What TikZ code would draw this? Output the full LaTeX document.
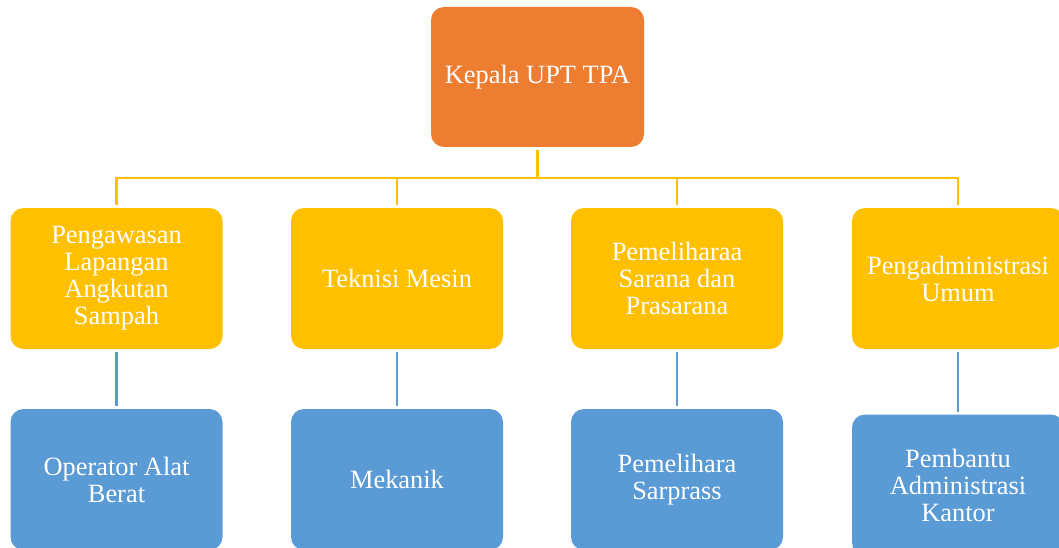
\documentclass[tikz,border=0pt]{standalone}
\usepackage{fontspec}
\setmainfont{Liberation Serif}
\definecolor{orgC}{HTML}{ED7D31}
\definecolor{yelC}{HTML}{FFC000}
\definecolor{bluC}{HTML}{5B9BD5}
\tikzset{
  box/.style={rounded corners=13pt, text=white, align=center, inner sep=0pt, outer sep=3pt,
    minimum width=212pt, minimum height=141pt, font=\fontsize{26.4}{27}\selectfont},
  obox/.style={box, fill=orgC},
  ybox/.style={box, fill=yelC},
  bbox/.style={box, fill=bluC},
  yline/.style={draw=yelC, line width=2.8pt},
  bline/.style={draw=bluC, line width=2.8pt}
}
\begin{document}
\begin{tikzpicture}[x=1pt, y=-1pt]
\useasboundingbox (0,0) rectangle (1059,548);
\clip (0,0) rectangle (1059,548);
\node[obox, minimum width=213pt, minimum height=140pt] (top) at (537.5,77) {Kepala UPT TPA};
\node[ybox] (y1) at (116.5,278.5) {Pengawasan\\Lapangan\\Angkutan\\Sampah};
\node[ybox] (y2) at (397,278.5) {Teknisi Mesin};
\node[ybox] (y3) at (677,278.5) {Pemeliharaa\\Sarana dan\\Prasarana};
\node[ybox] (y4) at (958,278.5) {Pengadministrasi\\Umum};
\node[bbox] (b1) at (116.5,479.5) {Operator Alat\\Berat};
\node[bbox] (b2) at (397,479.5) {Mekanik};
\node[bbox] (b3) at (677,479.5) {Pemelihara\\Sarprass};
\node[bbox] (b4) at (958,485) {Pembantu\\Administrasi\\Kantor};
\coordinate (bus) at ([yshift=-28pt]top.south);
\draw[yline] (top.south) -- (bus);
\draw[yline] (y1.north) |- (bus) -| (y4.north);
\draw[yline] (y2.north) -- (y2.north |- bus);
\draw[yline] (y3.north) -- (y3.north |- bus);
\draw[bline] (y1.south) -- (b1.north);
\draw[bline] (y2.south) -- (b2.north);
\draw[bline] (y3.south) -- (b3.north);
\draw[bline] (y4.south) -- (b4.north);
\end{tikzpicture}
\end{document}
